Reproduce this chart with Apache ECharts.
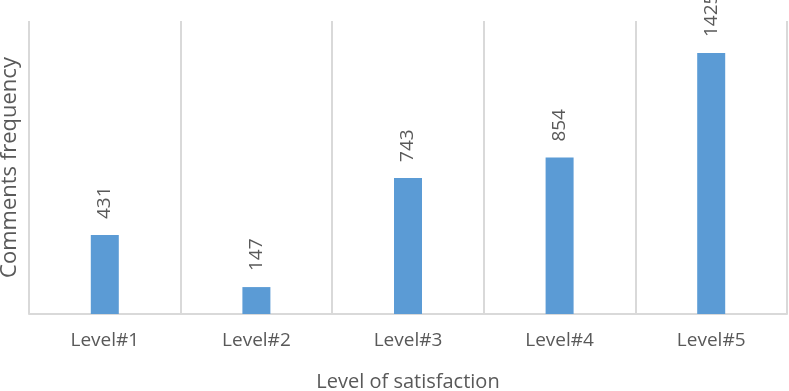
<!DOCTYPE html>
<html>
<head>
<meta charset="utf-8">
<script src="https://cdn.jsdelivr.net/npm/echarts@6/dist/echarts.min.js"></script>
<style>
  html, body { margin: 0; padding: 0; background: #fff; }
  #chart { width: 789px; height: 391px; }
</style>
</head>
<body>
<div id="chart"></div>
<script>
const niveles = ['Level#1', 'Level#2', 'Level#3', 'Level#4', 'Level#5'];
const frecuencias = [431, 147, 743, 854, 1425];

const myChart = echarts.init(document.getElementById('chart'));

const option = {
  animation: false,
  textStyle: { fontFamily: 'Open Sans' },
  grid: { left: 29, right: 2, top: 21, bottom: 77, outerBoundsMode: 'none' },
  xAxis: {
    type: 'category',
    data: niveles,
    name: 'Level of satisfaction',
    nameLocation: 'middle',
    nameGap: 58,
    nameTextStyle: { fontSize: 20, color: '#595959' },
    axisLine: { lineStyle: { color: '#d9d9d9', width: 2 } },
    axisTick: { show: false },
    axisLabel: { fontSize: 19, color: '#595959', margin: 17 },
    splitLine: { show: true, lineStyle: { color: '#d9d9d9', width: 2 } }
  },
  yAxis: {
    type: 'value',
    min: 0,
    max: 1600,
    name: 'Comments frequency',
    nameLocation: 'middle',
    nameGap: 8,
    nameTextStyle: { fontSize: 22, color: '#595959' },
    axisLine: { show: false },
    axisTick: { show: false },
    axisLabel: { show: false },
    splitLine: { show: false }
  },
  series: [{
    type: 'bar',
    data: frecuencias,
    barWidth: 28,
    itemStyle: { color: '#5b9bd5' },
    label: {
      show: true,
      position: 'top',
      rotate: 90,
      align: 'left',
      verticalAlign: 'middle',
      distance: 16,
      fontSize: 19,
      color: '#595959'
    }
  }]
};

myChart.setOption(option);
</script>
</body>
</html>
